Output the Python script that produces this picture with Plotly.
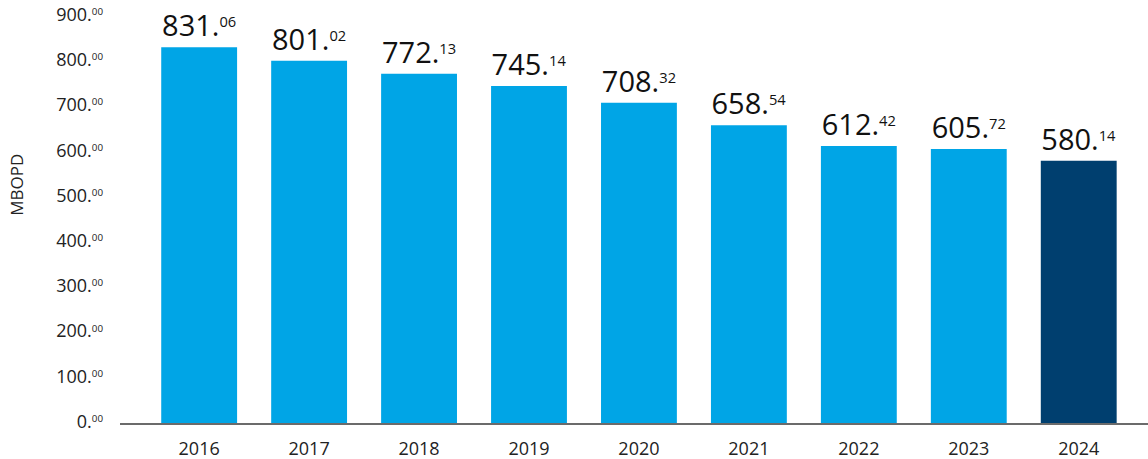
import plotly.graph_objects as go

years = ["2016", "2017", "2018", "2019", "2020", "2021", "2022", "2023", "2024"]
values = [831.06, 801.02, 772.13, 745.14, 708.32, 658.54, 612.42, 605.72, 580.14]
tick_vals = [0, 100, 200, 300, 400, 500, 600, 700, 800, 900]

bar_colors = ["#00A5E6"] * (len(years) - 1) + ["#003F6F"]
font_family = "Open Sans"


def fmt(v, main_px):
    # integer part at full size, decimals as a small raised superscript
    whole, dec = f"{v:.2f}".split(".")
    return f'<span style="font-size:{main_px}px">{whole}.</span><sup>{dec}</sup>'


fig = go.Figure(
    go.Bar(
        x=years,
        y=values,
        marker=dict(color=bar_colors, line=dict(width=0)),
        width=0.69,
        text=[fmt(v, 29) for v in values],
        textposition="outside",
        constraintext="none",
        cliponaxis=False,
        textfont=dict(family=font_family, size=21, color="#111111"),
        hoverinfo="skip",
    )
)

# rotated unit label on the left edge
fig.add_annotation(
    xref="paper", yref="paper", x=-0.1003, y=0.585,
    xanchor="center", yanchor="middle",
    text="MBOPD", textangle=-90, showarrow=False,
    font=dict(family=font_family, size=17, color="#222222"),
)

fig.update_layout(
    width=1148, height=459,
    margin=dict(l=120, r=0, t=16, b=36),
    plot_bgcolor="white", paper_bgcolor="white",
    showlegend=False,
    font=dict(family=font_family, color="#222222"),
    xaxis=dict(
        type="category", range=[-0.72, 8.63], automargin=False,
        showline=True, linecolor="#6b6b6b", linewidth=1.5,
        showgrid=False, ticks="", tickfont=dict(size=18),
        ticklabelstandoff=9,
    ),
    yaxis=dict(
        range=[0, 900], automargin=False,
        showgrid=False, zeroline=False, showline=False,
        tickvals=tick_vals, ticktext=[fmt(t, 18) for t in tick_vals],
        tickfont=dict(size=14), ticklabelstandoff=16,
    ),
)

fig.write_html("out.html")
